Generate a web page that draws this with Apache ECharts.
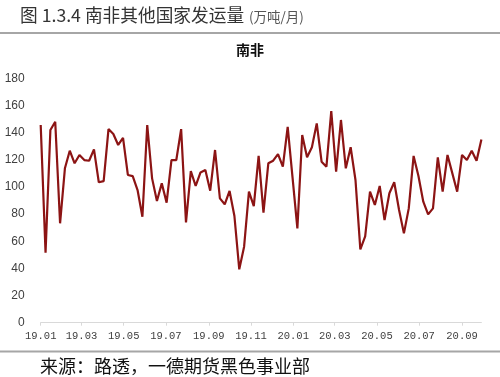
<!DOCTYPE html>
<html>
<head>
<meta charset="utf-8">
<script src="https://cdn.jsdelivr.net/npm/echarts@6/dist/echarts.min.js"></script>
<style>
html,body{margin:0;padding:0;background:#fff;}
#chart{width:500px;height:377px;}
</style>
</head>
<body>
<div id="chart"></div>
<script>
// Weekly series, first week 2019-01-01
const startDate = '2019-01-01';
const values = [
  145.6, 51.5, 141.9, 148, 73.2, 113.7, 126.7, 117.4, 123.5, 119.8,
  119.3, 127.7, 103.4, 104.3, 142.6, 139, 130.9, 136.2, 108.8, 108,
  97.7, 78, 145.6, 106.3, 89.6, 102.6, 88.4, 119.8, 119.8, 142.6,
  73.9, 111.7, 100.7, 110.7, 112.4, 97.2, 127.2, 91.6, 87.2, 97,
  78.6, 39.3, 56, 96.5, 85.9, 122.8, 81, 117.4, 119.3, 124.2,
  114.9, 144.3, 107, 69.5, 138.2, 121.8, 129.2, 146.8, 118.6, 114.9,
  155.9, 111.2, 149.3, 113.7, 129.2, 105.1, 54, 63.5, 96.5, 86.7,
  100.7, 75.6, 95.3, 103.4, 83, 65.8, 84.2, 122.8, 108, 89.1,
  79.8, 84.2, 121.8, 96.5, 123.5, 110, 96.5, 123.5, 119.8, 126.7,
  119.3, 135
];
const tickDates = ['2019-01-01','2019-03-01','2019-05-01','2019-07-01','2019-09-01','2019-11-01',
                   '2020-01-01','2020-03-01','2020-05-01','2020-07-01','2020-09-01'];
const tickLabels = ['19.01','19.03','19.05','19.07','19.09','19.11','20.01','20.03','20.05','20.07','20.09'];

const DAY = 86400000;
function ts(s){ const p = s.split('-'); return Date.UTC(+p[0], +p[1]-1, +p[2]); }
const t0 = ts(startDate);
// x measured in days since the first week
const seriesData = values.map((v, i) => [i * 7, v]);
const tickDays = tickDates.map(d => Math.round((ts(d) - t0) / DAY));
const labelMap = {};
tickDays.forEach((d, i) => { labelMap[d] = tickLabels[i]; });

const chart = echarts.init(document.getElementById('chart'), null, {renderer: 'canvas'});
chart.setOption({
  animation: false,
  backgroundColor: '#fff',
  graphic: [
    {type: 'text', left: 20, top: 6, style: {text: '图 1.3.4 南非其他国家发运量', font: '17.7px "Noto Sans CJK SC", sans-serif', fill: '#333'}},
    {type: 'text', left: 249, top: 10, style: {text: '(万吨/月)', font: '13.5px "Noto Sans CJK SC", sans-serif', fill: '#555'}},
    {type: 'rect', shape: {x: 0, y: 32, width: 500, height: 2}, style: {fill: '#a6a6a6'}},
    {type: 'text', left: 'center', top: 43, style: {text: '南非', font: 'bold 14px "Noto Sans CJK SC", sans-serif', fill: '#111'}},
    {type: 'rect', shape: {x: 0, y: 350.5, width: 500, height: 2}, style: {fill: '#a6a6a6'}},
    {type: 'text', left: 40, top: 357, style: {text: '来源：路透，一德期货黑色事业部', font: '18px "Noto Sans CJK SC", sans-serif', fill: '#111'}}
  ],
  grid: {left: 40.7, right: 18.6, top: 78.3, bottom: 54.3, containLabel: false},
  xAxis: {
    type: 'value',
    min: 0,
    max: seriesData[seriesData.length - 1][0],
    axisLine: {show: true, onZero: false, lineStyle: {color: '#d9d9d9', width: 1}},
    axisTick: {show: true, length: 3, lineStyle: {color: '#d9d9d9'}, customValues: tickDays},
    splitLine: {show: false},
    axisLabel: {
      customValues: tickDays,
      margin: 8,
      color: '#404040',
      fontFamily: '"Liberation Mono", monospace',
      fontSize: 10.5,
      formatter: function (v) { return labelMap[v] || ''; }
    }
  },
  yAxis: {
    type: 'value',
    min: 0,
    max: 180,
    interval: 20,
    axisLine: {show: false},
    axisTick: {show: false},
    splitLine: {show: false},
    axisLabel: {margin: 16, color: '#404040', fontFamily: '"Liberation Sans", Arial, sans-serif', fontSize: 12}
  },
  series: [{
    type: 'line',
    data: seriesData,
    showSymbol: false,
    symbol: 'none',
    lineStyle: {color: '#8c1414', width: 2.2},
    itemStyle: {color: '#8c1414'}
  }]
});
</script>
</body>
</html>
